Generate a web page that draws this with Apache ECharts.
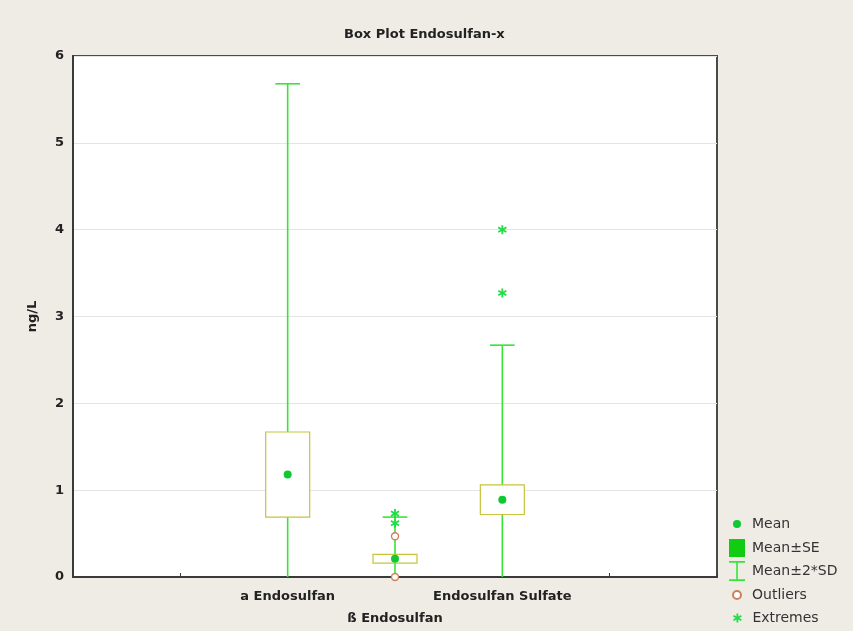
<!DOCTYPE html>
<html><head><meta charset="utf-8">
<script src="https://cdn.jsdelivr.net/npm/echarts@6/dist/echarts.min.js"></script>
<style>html,body{margin:0;padding:0;background:#efece6;}#c{width:853px;height:631px;}</style>
</head><body><div id="c"></div>
<script>
const categories = ['a Endosulfan', 'ß Endosulfan', 'Endosulfan Sulfate'];
const means = [1.18, 0.21, 0.89];
const seLow = [0.69, 0.16, 0.72];
const seHigh = [1.67, 0.26, 1.06];
const sdLow = [-3.32, -0.27, -0.89];
const sdHigh = [5.68, 0.69, 2.67];
const outliers = [['ß Endosulfan', 0.47], ['ß Endosulfan', 0.0]];
const extremes = [['ß Endosulfan', 0.73], ['ß Endosulfan', 0.62], ['Endosulfan Sulfate', 3.27], ['Endosulfan Sulfate', 4.0]];
const yMin = 0, yMax = 6, yStep = 1;

const axisCats = ['', ''].concat(categories, ['', '']);
const FONT = 'DejaVu Sans';
const GREEN_LINE = '#38e438';
const GREEN_DOT = '#0fc832';
const BOX = '#c9c43a';
const BROWN = '#cf7f5a';

const chart = echarts.init(document.getElementById('c'), null, {renderer: 'canvas'});

function renderWhisker(params, api) {
  const x = api.value(0);
  const lo = api.coord([x, api.value(1)]);
  const hi = api.coord([x, api.value(2)]);
  const half = api.size([1, 0])[0] * 0.115;
  const st = {stroke: GREEN_LINE, lineWidth: 1.6};
  return {type: 'group', children: [
    {type: 'line', shape: {x1: lo[0], y1: lo[1], x2: hi[0], y2: hi[1]}, style: st},
    {type: 'line', shape: {x1: hi[0] - half, y1: hi[1], x2: hi[0] + half, y2: hi[1]}, style: st},
    {type: 'line', shape: {x1: lo[0] - half, y1: lo[1], x2: lo[0] + half, y2: lo[1]}, style: st}
  ]};
}
function renderBox(params, api) {
  const x = api.value(0);
  const lo = api.coord([x, api.value(1)]);
  const hi = api.coord([x, api.value(2)]);
  const w = api.size([1, 0])[0] * 0.41;
  return {type: 'rect', shape: {x: lo[0] - w / 2, y: hi[1], width: w, height: lo[1] - hi[1]},
    style: {fill: '#ffffff', stroke: BOX, lineWidth: 1.2}};
}

const starPath = 'path://M4,0h2v3.3l2.9,-1.7l1,1.7l-2.9,1.7l2.9,1.7l-1,1.7l-2.9,-1.7v3.3h-2v-3.3l-2.9,1.7l-1,-1.7l2.9,-1.7l-2.9,-1.7l1,-1.7l2.9,1.7z';
const sePath = 'path://M0,0h16v18h-16z';
const sdPath = 'path://M0,0h16v1.8h-7.2v16.4h7.2v1.8h-16v-1.8h7.2v-16.4h-7.2z';

const legendText = {fontFamily: FONT, fontSize: 14, color: '#333'};
function leg(name, icon, h, left, top) {
  return {data: [{name: name, icon: icon}], left: left, top: top, padding: 0, itemWidth: 20, itemHeight: h,
    selectedMode: false, textStyle: legendText};
}

chart.setOption({
  backgroundColor: '#efece6',
  animation: false,
  title: {text: 'Box Plot Endosulfan-x', left: 339, top: 23,
    textStyle: {fontFamily: FONT, fontSize: 13, fontWeight: 'bold', color: '#222'}},
  grid: {left: 73, right: 136, top: 56, bottom: 54, show: true, backgroundColor: '#ffffff',
    borderColor: '#4a4a4a', borderWidth: 2},
  legend: [
    leg('Mean', 'circle', 8, 733, 517),
    leg('Mean±SE', sePath, 18, 729, 539),
    leg('Mean±2*SD', sdPath, 20, 729, 561),
    leg('Outliers', 'circle', 8, 732, 588),
    leg('Extremes', starPath, 9, 733, 611)
  ],
  xAxis: {
    type: 'category', data: axisCats, boundaryGap: false,
    axisLine: {show: true, lineStyle: {color: '#3a3a3a', width: 2}},
    axisTick: {show: true, inside: true, length: 4, interval: 0, lineStyle: {color: '#3a3a3a'}},
    axisLabel: {interval: 0, margin: 9, fontFamily: FONT, fontSize: 13, fontWeight: 'bold', color: '#222', lineHeight: 22,
      formatter: function (v) { return v === categories[1] ? '\n' + v : v; }},
    splitLine: {show: false}
  },
  yAxis: {
    type: 'value', min: yMin, max: yMax, interval: yStep,
    name: 'ng/L', nameLocation: 'middle', nameGap: 34,
    nameTextStyle: {fontFamily: FONT, fontSize: 13, fontWeight: 'bold', color: '#222'},
    axisLine: {show: true, lineStyle: {color: '#3a3a3a', width: 2}},
    axisTick: {show: false},
    axisLabel: {margin: 9, fontFamily: FONT, fontSize: 13, fontWeight: 'bold', color: '#222'},
    splitLine: {show: true, lineStyle: {color: '#e4e4e4', width: 1}}
  },
  series: [
    {name: 'Mean±2*SD', type: 'custom', clip: true, renderItem: renderWhisker,
      itemStyle: {color: GREEN_LINE}, encode: {x: 0, y: [1, 2]}, z: 2,
      data: categories.map((c, i) => [c, sdLow[i], sdHigh[i]])},
    {name: 'Mean±SE', type: 'custom', clip: true, renderItem: renderBox,
      itemStyle: {color: '#12cc12'}, encode: {x: 0, y: [1, 2]}, z: 3,
      data: categories.map((c, i) => [c, seLow[i], seHigh[i]])},
    {name: 'Mean', type: 'scatter', symbol: 'circle', symbolSize: 8, z: 4,
      itemStyle: {color: GREEN_DOT, opacity: 1},
      data: categories.map((c, i) => [c, means[i]])},
    {name: 'Outliers', type: 'scatter', symbol: 'circle', symbolSize: 7, z: 5,
      itemStyle: {color: '#ffffff', borderColor: BROWN, borderWidth: 1.4, opacity: 1},
      data: outliers},
    {name: 'Extremes', type: 'scatter', symbol: starPath, symbolSize: 9, z: 6,
      itemStyle: {color: '#22dd44', opacity: 1},
      data: extremes}
  ]
});
</script>
</body></html>
